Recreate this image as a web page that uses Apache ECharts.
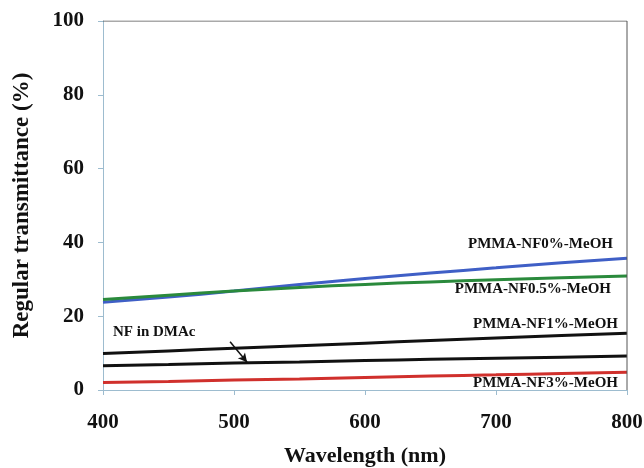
<!DOCTYPE html>
<html>
<head>
<meta charset="utf-8">
<script src="https://cdn.jsdelivr.net/npm/echarts@6/dist/echarts.min.js"></script>
<style>
html, body { margin: 0; padding: 0; background: #fff; }
#chart { width: 644px; height: 468px; }
</style>
</head>
<body>
<div id="chart"></div>
<script>
// wavelength (nm)
const wavelengths = [400, 450, 500, 550, 600, 650, 700, 750, 800]
// regular transmittance (%)
const nf0 = [23.8, 25.2, 26.8, 28.6, 30.2, 31.7, 33.1, 34.5, 35.7]
const nf05 = [24.5, 25.7, 26.8, 27.8, 28.6, 29.3, 29.9, 30.4, 30.9]
const nf1 = [9.9, 10.6, 11.3, 12.0, 12.7, 13.4, 14.1, 14.8, 15.4]
const nf1b = [6.6, 6.9, 7.3, 7.6, 8.0, 8.3, 8.6, 8.9, 9.2]
const nf3 = [2.0, 2.3, 2.7, 3.0, 3.4, 3.8, 4.1, 4.5, 4.8]
const yTicks = [0, 20, 40, 60, 80, 100]

const font = '"Liberation Serif", "Times New Roman", serif'
const axisColor = '#9dbccf'

function pairs(arr) {
  return wavelengths.map((w, i) => [w, arr[i]])
}
function lineSeries(name, arr, color) {
  return {
    name: name,
    type: 'line',
    data: pairs(arr),
    showSymbol: false,
    smooth: true,
    lineStyle: { color: color, width: 3 },
    itemStyle: { color: color },
    silent: true
  }
}

const myChart = echarts.init(document.getElementById('chart'))
const series = [
  lineSeries('PMMA-NF0%-MeOH', nf0, '#3f5fc6'),
  lineSeries('PMMA-NF0.5%-MeOH', nf05, '#2a8a3c'),
  lineSeries('PMMA-NF1%-MeOH', nf1, '#111111'),
  lineSeries('NF in DMAc', nf1b, '#111111'),
  lineSeries('PMMA-NF3%-MeOH', nf3, '#d0302c')
]
// arrow pointing at the NF in DMAc line
series[3].markLine = {
  silent: true,
  symbol: ['none', 'arrow'],
  symbolSize: [7, 9],
  label: { show: false },
  lineStyle: { color: '#111', width: 1.5, type: 'solid' },
  data: [[{ coord: [497, 13.1] }, { coord: [510, 7.5] }]]
}
// plot frame top/right
series.push({
  type: 'line',
  data: [[400, 100], [800, 100], [800, 0]],
  showSymbol: false,
  silent: true,
  lineStyle: { color: '#555', width: 1 }
})

function note(text, x, y, align) {
  return {
    type: 'text',
    x: x,
    y: y,
    style: {
      text: text,
      font: 'bold 15px ' + font,
      fill: '#111',
      textAlign: align,
      textVerticalAlign: 'middle'
    }
  }
}

myChart.setOption({
  animation: false,
  backgroundColor: '#ffffff',
  grid: { left: 103, right: 17, top: 21, bottom: 78, outerBoundsMode: 'none' },
  xAxis: {
    type: 'value',
    min: 400,
    max: 800,
    interval: 100,
    name: 'Wavelength (nm)',
    nameLocation: 'middle',
    nameGap: 55,
    nameTextStyle: { fontFamily: font, fontWeight: 'bold', fontSize: 22, color: '#111' },
    axisLine: { lineStyle: { color: axisColor, width: 1 } },
    axisTick: { show: true, length: 5, lineStyle: { color: axisColor } },
    axisLabel: { fontFamily: font, fontWeight: 'bold', fontSize: 21, color: '#111', margin: 22 },
    splitLine: { show: false }
  },
  yAxis: {
    type: 'value',
    min: yTicks[0],
    max: yTicks[yTicks.length - 1],
    interval: 20,
    name: 'Regular transmittance (%)',
    nameLocation: 'middle',
    nameGap: 69,
    nameTextStyle: { fontFamily: font, fontWeight: 'bold', fontSize: 23, color: '#111' },
    axisLine: { show: true, lineStyle: { color: axisColor, width: 1 } },
    axisTick: { show: true, length: 5, lineStyle: { color: axisColor } },
    axisLabel: { fontFamily: font, fontWeight: 'bold', fontSize: 21, color: '#111', margin: 19 },
    splitLine: { show: false }
  },
  graphic: [
    note('PMMA-NF0%-MeOH', 613, 244, 'right'),
    note('PMMA-NF0.5%-MeOH', 611, 289, 'right'),
    note('PMMA-NF1%-MeOH', 618, 324, 'right'),
    note('PMMA-NF3%-MeOH', 618, 383, 'right'),
    note('NF in DMAc', 113, 332, 'left')
  ],
  series: series
})
</script>
</body>
</html>
